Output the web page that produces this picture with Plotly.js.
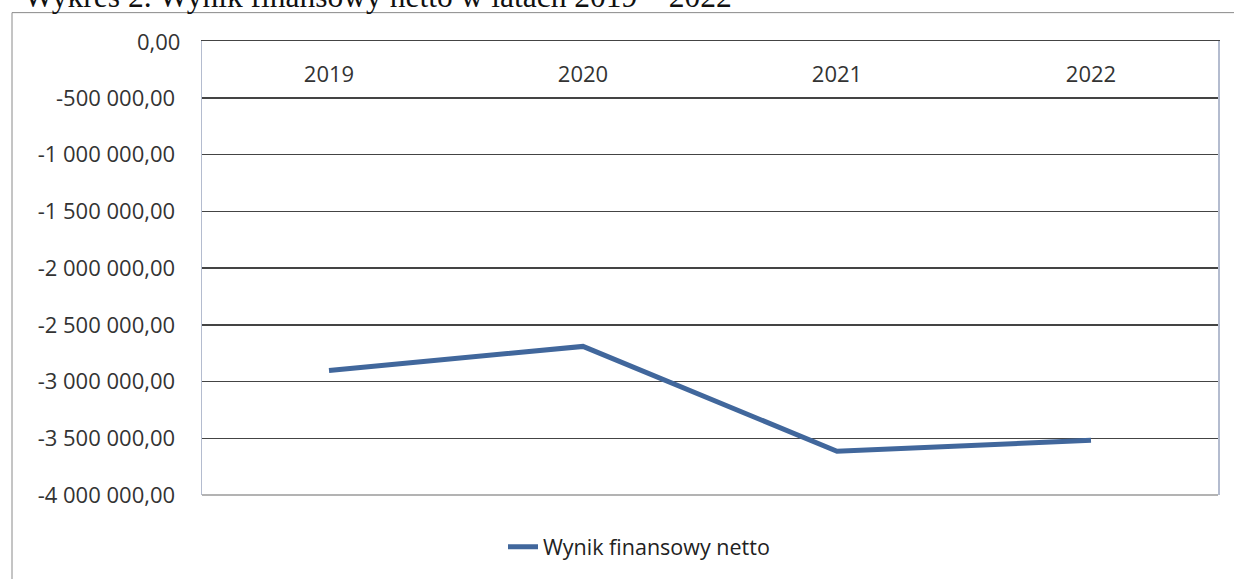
<!DOCTYPE html>
<html>
<head>
<meta charset="utf-8">
<script src="https://cdn.plot.ly/plotly-3.0.1.min.js"></script>
<style>
html,body{margin:0;padding:0;background:#fff;}
#chart{width:1234px;height:579px;}
</style>
</head>
<body>
<div id="chart"></div>
<script>
const years = ['2019', '2020', '2021', '2022'];
const wynikNetto = [-2903000, -2690000, -3614000, -3518000];
const seriesName = 'Wynik finansowy netto';
const yTickVals = [0, -500000, -1000000, -1500000, -2000000, -2500000, -3000000, -3500000, -4000000];
const yTickText = ['0,00', '-500 000,00', '-1 000 000,00', '-1 500 000,00', '-2 000 000,00', '-2 500 000,00', '-3 000 000,00', '-3 500 000,00', '-4 000 000,00'];
const chartTitle = 'Wykres 2. Wynik finansowy netto w latach 2019 – 2022';

const L = 202, R = 1218, T = 41, B = 497, W = 1234, H = 579;
const pw = R - L, ph = B - T;
const px = x => (x - L) / pw;
const py = y => (B - y) / ph;
const standoff = 21;

const trace = {
  x: years,
  y: wynikNetto,
  type: 'scatter',
  mode: 'lines',
  name: seriesName,
  line: {color: '#41679c', width: 5},
  hoverinfo: 'skip'
};

const layout = {
  width: W, height: H,
  margin: {l: L, r: W - R, t: T, b: H - B, pad: 0},
  paper_bgcolor: '#ffffff',
  plot_bgcolor: '#ffffff',
  font: {family: '"Open Sans", "Noto Sans", sans-serif', color: '#333333'},
  showlegend: true,
  legend: {
    orientation: 'h',
    x: px(503), xanchor: 'left',
    y: py(549), yanchor: 'middle',
    font: {size: 21.5, color: '#222222'},
    bgcolor: 'rgba(0,0,0,0)'
  },
  xaxis: {
    type: 'category',
    range: [-0.5, 3.5],
    side: 'top',
    ticklabelposition: 'inside',
    ticklabelstandoff: 27,
    ticks: '',
    showgrid: false,
    showline: true,
    linecolor: '#444444',
    linewidth: 1.5,
    mirror: false,
    zeroline: false,
    tickfont: {size: 22, color: '#333333'},
    fixedrange: true
  },
  yaxis: {
    range: [-4000000, 2000],
    tickvals: yTickVals,
    ticktext: yTickText,
    ticks: '',
    ticklabelstandoff: standoff,
    ticklabeloverflow: 'allow',
    showgrid: true,
    gridcolor: '#444444',
    gridwidth: 1.5,
    zeroline: false,
    showline: true,
    linecolor: '#b4bccf',
    linewidth: 1.5,
    mirror: true,
    tickfont: {size: 22, color: '#333333'},
    fixedrange: true
  },
  shapes: [
    {type: 'line', xref: 'paper', yref: 'paper', x0: 0, x1: 1, y0: 0, y1: 0,
     line: {color: '#9a9a9a', width: 1.5}},
    {type: 'rect', xref: 'paper', yref: 'paper',
     x0: px(12), x1: px(1245), y0: py(12.5), y1: py(600),
     line: {color: '#8a8a8a', width: 1}, layer: 'below'}
  ],
  annotations: [
    {text: chartTitle, xref: 'paper', yref: 'paper', x: px(22), xanchor: 'left',
     y: py(16), yanchor: 'bottom', showarrow: false,
     font: {family: '"Liberation Serif", "Times New Roman", serif', size: 31.5, color: '#111111'}},
    // the top y tick label is hidden by Plotly (it sits on the inside-labelled x axis), so draw it here
    {text: yTickText[0], xref: 'paper', yref: 'y', x: 0, xshift: -standoff, xanchor: 'right',
     y: yTickVals[0], yanchor: 'middle', showarrow: false, borderpad: 0,
     font: {family: '"Open Sans", "Noto Sans", sans-serif', size: 22, color: '#333333'}}
  ]
};

Plotly.newPlot('chart', [trace], layout, {displayModeBar: false, staticPlot: true});
</script>
</body>
</html>
